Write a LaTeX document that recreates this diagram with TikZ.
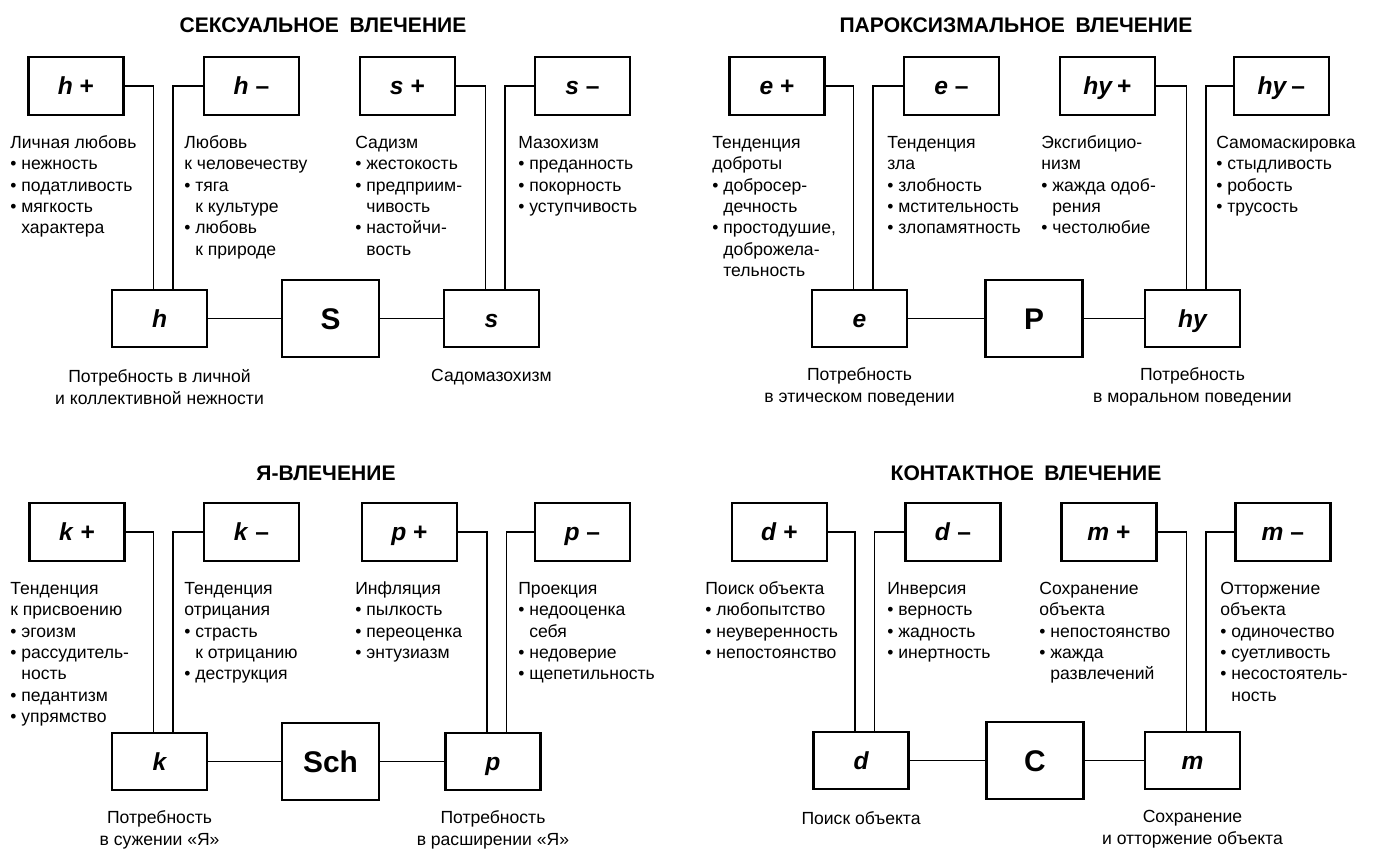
\documentclass[tikz,border=0pt]{standalone}
\usepackage{fontspec}
\setmainfont{Liberation Sans}
\usetikzlibrary{positioning}
\newcommand{\bitem}{\textbullet\ }
\newcommand{\bnext}{\phantom{\textbullet\ }}
\newcommand{\tstrut}{\rule{0pt}{9pt}}

\begin{document}
\begin{tikzpicture}[x=0.02cm, y=-0.02cm, node distance=3.5cm, on grid,
tbox/.style={draw, line width=1.3pt, minimum width=1.9cm, minimum height=1.16cm, inner sep=0pt, text height=10pt, text depth=0pt, font=\fontsize{14}{16}\selectfont\bfseries},
sbox/.style={draw, line width=1.3pt, minimum width=1.9cm, minimum height=1.14cm, inner sep=0pt, text height=10pt, text depth=0pt, font=\fontsize{14}{16}\selectfont\bfseries\itshape},
cbox/.style={draw, line width=1.3pt, minimum width=1.94cm, minimum height=1.54cm, inner sep=0pt, text height=12pt, text depth=0pt, font=\fontsize{17}{19}\selectfont\bfseries},
txt/.style={anchor=north west, align=left, inner sep=0pt, font=\fontsize{10}{12.2}\selectfont},
note/.style={align=center, inner sep=0pt, font=\fontsize{10}{12.2}\selectfont},
head/.style={font=\fontsize{12}{14}\selectfont\bfseries},
link/.style={line width=0.7pt}]
\useasboundingbox (0,0) rectangle (1374,858);

\begin{scope}
\node [head] (t_S) at (323,25) {СЕКСУАЛЬНОЕ\enspace ВЛЕЧЕНИЕ};
\node [tbox] (hp) at (76,86) {\textit{h}\ +};
\node [tbox] (hm) [right=3.51cm of hp] {\textit{h}\ –};
\node [tbox] (sp) [right=3.12cm of hm] {\textit{s}\ +};
\node [tbox] (sm) [right=3.5cm of sp] {\textit{s}\ –};
\node [cbox] (S) at (330.5,318.5) {S};
\node [sbox] (h) [left=3.42cm of S] {h};
\node [sbox] (s) [right=3.22cm of S] {s};
\node [txt] (hp_t) at (10,132) {\tstrut Личная любовь\\\bitem нежность\\\bitem податливость\\\bitem мягкость\\\bnext характера};
\node [txt] (hm_t) at (184,132) {\tstrut Любовь\\к человечеству\\\bitem тяга\\\bnext к культуре\\\bitem любовь\\\bnext к природе};
\node [txt] (sp_t) at (355,132) {\tstrut Садизм\\\bitem жестокость\\\bitem предприим-\\\bnext чивость\\\bitem настойчи-\\\bnext вость};
\node [txt] (sm_t) at (518,132) {\tstrut Мазохизм\\\bitem преданность\\\bitem покорность\\\bitem уступчивость};
\node [note] (h_c) [below=1.37cm of h] {Потребность в личной\\и коллективной нежности};
\node [note] (s_c) [below=1.17cm of s] {Садомазохизм};
\draw [link] (hp) -| ([xshift=-.12cm]h.north);
\draw [link] (hm) -| ([xshift=.27cm]h.north);
\draw [link] (sp) -| ([xshift=-.12cm]s.north);
\draw [link] (sm) -| ([xshift=.27cm]s.north);
\draw [link] (h) -- (S) -- (s);
\end{scope}

\begin{scope}[shift={(700,0)}]
\node [head] (t_P) at (316,25) {ПАРОКСИЗМАЛЬНОЕ\enspace ВЛЕЧЕНИЕ};
\node [tbox] (ep) at (77,86) {\textit{e}\ +};
\node [tbox] (em) [right=3.49cm of ep] {\textit{e}\ –};
\node [tbox] (hyp) [right=3.12cm of em] {\textit{hy}\,+};
\node [tbox] (hym) [right=3.48cm of hyp] {\textit{hy}\,–};
\node [cbox] (P) at (334,318.5) {P};
\node [sbox] (e) [left=3.49cm of P] {e};
\node [sbox] (hy) [right=3.17cm of P] {hy};
\node [txt] (ep_t) at (12,132) {\tstrut Тенденция\\доброты\\\bitem добросер-\\\bnext дечность\\\bitem простодушие,\\\bnext доброжела-\\\bnext тельность};
\node [txt] (em_t) at (187,132) {\tstrut Тенденция\\зла\\\bitem злобность\\\bitem мстительность\\\bitem злопамятность};
\node [txt] (hyp_t) at (341,132) {\tstrut Эксгибицио-\\низм\\\bitem жажда одоб-\\\bnext рения\\\bitem честолюбие};
\node [txt] (hym_t) at (516,132) {\tstrut Самомаскировка\\\bitem стыдливость\\\bitem робость\\\bitem трусость};
\node [note] (e_c) [below=1.37cm of e] {Потребность\\в этическом поведении};
\node [note] (hy_c) [below=1.37cm of hy] {Потребность\\в моральном поведении};
\draw [link] (ep) -| ([xshift=-.12cm]e.north);
\draw [link] (em) -| ([xshift=.27cm]e.north);
\draw [link] (hyp) -| ([xshift=-.12cm]hy.north);
\draw [link] (hym) -| ([xshift=.27cm]hy.north);
\draw [link] (e) -- (P) -- (hy);
\end{scope}

\begin{scope}[shift={(0,446)}]
\node [head] (t_Sch) at (326,27) {Я-ВЛЕЧЕНИЕ};
\node [tbox] (kp) at (77,86) {\textit{k}\ +};
\node [tbox] (km) [right=3.49cm of kp] {\textit{k}\ –};
\node [tbox] (pp) [right=3.16cm of km] {\textit{p}\ +};
\node [tbox] (pm) [right=3.46cm of pp] {\textit{p}\ –};
\node [cbox] (Sch) at (330.5,315.5) {Sch};
\node [sbox] (k) [left=3.42cm of Sch] {k};
\node [sbox] (p) [right=3.25cm of Sch] {p};
\node [txt] (kp_t) at (10,132) {\tstrut Тенденция\\к присвоению\\\bitem эгоизм\\\bitem рассудитель-\\\bnext ность\\\bitem педантизм\\\bitem упрямство};
\node [txt] (km_t) at (184,132) {\tstrut Тенденция\\отрицания\\\bitem страсть\\\bnext к отрицанию\\\bitem деструкция};
\node [txt] (pp_t) at (355,132) {\tstrut Инфляция\\\bitem пылкость\\\bitem переоценка\\\bitem энтузиазм};
\node [txt] (pm_t) at (518,132) {\tstrut Проекция\\\bitem недооценка\\\bnext себя\\\bitem недоверие\\\bitem щепетильность};
\node [note] (k_c) [below=1.37cm of k] {Потребность\\в сужении «Я»};
\node [note] (p_c) [below=1.37cm of p] {Потребность\\в расширении «Я»};
\draw [link] (kp) -| ([xshift=-.12cm]k.north);
\draw [link] (km) -| ([xshift=.27cm]k.north);
\draw [link] (pp) -| ([xshift=-.12cm]p.north);
\draw [link] (pm) -| ([xshift=.27cm]p.north);
\draw [link] (k) -- (Sch) -- (p);
\end{scope}

\begin{scope}[shift={(700,446)}]
\node [head] (t_C) at (326,27) {КОНТАКТНОЕ\enspace ВЛЕЧЕНИЕ};
\node [tbox] (dp) at (79.5,86) {\textit{d}\ +};
\node [tbox] (dm) [right=3.47cm of dp] {\textit{d}\ –};
\node [tbox] (mp) [right=3.12cm of dm] {\textit{m}\ +};
\node [tbox] (mm) [right=3.48cm of mp] {\textit{m}\ –};
\node [cbox] (C) at (335,314.5) {C};
\node [sbox] (d) [left=3.48cm of C] {d};
\node [sbox] (m) [right=3.15cm of C] {m};
\node [txt] (dp_t) at (5,132) {\tstrut Поиск объекта\\\bitem любопытство\\\bitem неуверенность\\\bitem непостоянство};
\node [txt] (dm_t) at (187,132) {\tstrut Инверсия\\\bitem верность\\\bitem жадность\\\bitem инертность};
\node [txt] (mp_t) at (339,132) {\tstrut Сохранение\\объекта\\\bitem непостоянство\\\bitem жажда\\\bnext развлечений};
\node [txt] (mm_t) at (520,132) {\tstrut Отторжение\\объекта\\\bitem одиночество\\\bitem суетливость\\\bitem несостоятель-\\\bnext ность};
\node [note] (d_c) [below=1.15cm of d] {Поиск объекта};
\node [note] (m_c) [below=1.37cm of m] {Сохранение\\и отторжение объекта};
\draw [link] (dp) -| ([xshift=-.12cm]d.north);
\draw [link] (dm) -| ([xshift=.27cm]d.north);
\draw [link] (mp) -| ([xshift=-.12cm]m.north);
\draw [link] (mm) -| ([xshift=.27cm]m.north);
\draw [link] (d) -- (C) -- (m);
\end{scope}
\end{tikzpicture}
\end{document}
